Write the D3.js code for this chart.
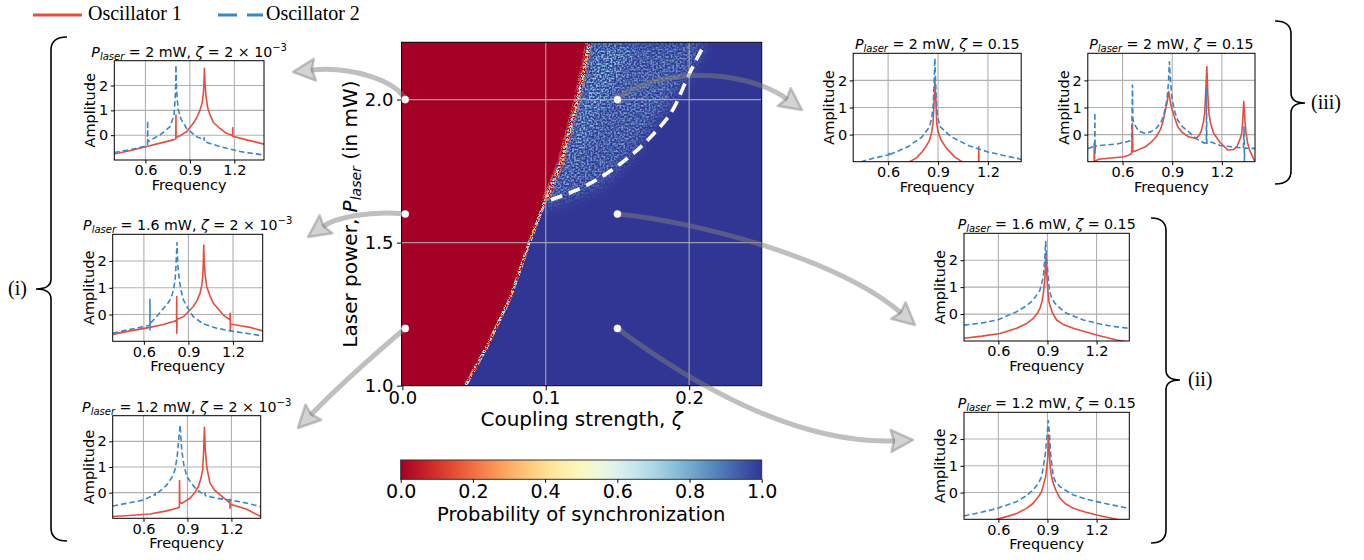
<!DOCTYPE html>
<html><head><meta charset="utf-8">
<script src="https://cdn.jsdelivr.net/npm/d3@7"></script>
<style>
html,body{margin:0;padding:0;background:#fff;}
svg{display:block;}
</style></head><body>
<svg id="fig" width="1364" height="560"></svg>
<script>
// ================= DATA =================
const seriesNames = ["Oscillator 1", "Oscillator 2"];
const freqTicks = [0.6, 0.9, 1.2];
const ampTicks = [0, 1, 2];
const zetaTicks = [0.0, 0.1, 0.2];
const powerTicks = [1.0, 1.5, 2.0];
const probTicks = [0.0, 0.2, 0.4, 0.6, 0.8, 1.0];

// synchronization boundary (left edge of synchronized region)
const syncPower = [1.0, 1.137, 1.31, 1.498, 1.65, 1.778, 2.0, 2.2];
const syncZeta  = [0.044, 0.059, 0.0755, 0.0884, 0.100, 0.1106, 0.1223, 0.1305];
// extent of the speckled (partially synchronized) zone
const specklePower    = [1.62, 1.7, 1.8, 1.9, 2.0, 2.1, 2.2];
const speckleEdgeZeta = [0.097, 0.138, 0.158, 0.173, 0.188, 0.200, 0.212];
const denseEdgeZeta   = [0.097, 0.112, 0.121, 0.131, 0.141, 0.152, 0.163];
// white dashed curve
const dashPower = [1.65, 1.7025, 1.778, 1.872, 1.977, 2.082, 2.187];
const dashZeta  = [0.1036, 0.1293, 0.1527, 0.1737, 0.190, 0.1994, 0.21];
// sampled parameter points
const sampleZeta  = [0.002, 0.002, 0.002, 0.15, 0.15, 0.15];
const samplePower = [2.0, 1.6, 1.2, 2.0, 1.6, 1.2];

// spectra: [frequency, log amplitude]
const osc1_i_20 = [[0.39,-0.76],[0.50,-0.62],[0.608,-0.46],[0.70,-0.32],[0.788,-0.19],[0.805,-0.14],[0.806,0.81],[0.807,-0.10],[0.84,0.0],[0.878,0.14],[0.923,0.48],[0.95,0.75],[0.968,1.01],[0.983,1.3],[0.991,1.68],[0.995,2.1],[0.998,2.69],[1.002,2.1],[1.009,1.55],[1.02,1.1],[1.036,0.81],[1.06,0.5],[1.103,0.27],[1.14,0.1],[1.182,0.0],[1.188,-0.02],[1.189,0.30],[1.190,-0.04],[1.283,-0.19],[1.40,-0.36]];
const osc2_i_20 = [[0.39,-0.70],[0.50,-0.58],[0.586,-0.46],[0.614,-0.41],[0.615,0.58],[0.616,-0.27],[0.65,-0.15],[0.698,0.01],[0.766,0.34],[0.793,0.81],[0.80,1.42],[0.804,2.0],[0.806,2.82],[0.809,2.0],[0.815,1.42],[0.822,1.01],[0.84,0.65],[0.878,0.27],[0.946,-0.06],[0.995,-0.19],[0.996,-0.1],[0.997,-0.26],[1.05,-0.36],[1.103,-0.46],[1.238,-0.66],[1.40,-0.80]];
const osc1_i_16 = [[0.39,-0.74],[0.50,-0.62],[0.641,-0.48],[0.73,-0.37],[0.798,-0.26],[0.820,-0.22],[0.821,0.67],[0.8215,-0.70],[0.823,-0.18],[0.866,-0.08],[0.933,0.30],[0.96,0.55],[0.978,0.79],[0.99,1.1],[0.996,1.42],[1.0,1.9],[1.003,2.60],[1.007,1.9],[1.013,1.45],[1.023,1.04],[1.045,0.7],[1.068,0.42],[1.135,-0.02],[1.18,-0.2],[1.181,0.05],[1.182,-0.6],[1.184,-0.35],[1.25,-0.42],[1.315,-0.48],[1.40,-0.61]];
const osc2_i_16 = [[0.39,-0.70],[0.50,-0.56],[0.619,-0.43],[0.640,-0.40],[0.641,0.57],[0.6415,-0.58],[0.643,-0.33],[0.69,-0.05],[0.731,0.23],[0.765,0.45],[0.787,0.67],[0.80,0.95],[0.81,1.29],[0.816,1.8],[0.823,2.69],[0.829,1.8],[0.839,1.29],[0.85,0.9],[0.866,0.55],[0.90,0.2],[0.933,-0.08],[1.0,-0.35],[1.09,-0.51],[1.18,-0.61],[1.30,-0.71],[1.40,-0.80]];
const osc1_i_12 = [[0.39,-0.93],[0.50,-0.89],[0.645,-0.83],[0.75,-0.72],[0.827,-0.61],[0.845,-0.57],[0.846,0.47],[0.848,-0.38],[0.861,-0.42],[0.918,-0.22],[0.95,0.0],[0.975,0.24],[0.992,0.55],[1.004,0.89],[1.011,1.67],[1.016,2.55],[1.022,1.67],[1.032,1.0],[1.054,0.37],[1.085,0.1],[1.123,-0.09],[1.189,-0.4],[1.190,-0.26],[1.191,-0.61],[1.193,-0.45],[1.25,-0.55],[1.305,-0.65],[1.40,-0.93]];
const osc2_i_12 = [[0.39,-0.52],[0.50,-0.40],[0.599,-0.29],[0.679,-0.07],[0.680,-0.02],[0.681,-0.1],[0.759,0.30],[0.80,0.65],[0.815,0.89],[0.83,1.4],[0.838,1.93],[0.85,2.64],[0.855,2.2],[0.861,1.67],[0.875,1.1],[0.895,0.63],[0.93,0.35],[0.963,0.11],[1.02,-0.09],[1.021,-0.02],[1.022,-0.12],[1.10,-0.22],[1.19,-0.29],[1.30,-0.40],[1.40,-0.55]];
const osc1_iii_a = [[0.72,-1.1],[0.73,-1.0],[0.77,-0.86],[0.805,-0.63],[0.83,-0.42],[0.849,-0.2],[0.862,0.1],[0.87,0.42],[0.877,1.28],[0.881,2.02],[0.887,1.28],[0.892,0.42],[0.90,0.1],[0.918,-0.2],[0.95,-0.5],[1.0,-0.82],[1.043,-1.0],[1.06,-1.1],[1.144,-1.1],[1.145,-0.45],[1.146,-1.1],[1.40,-1.2]];
const osc2_iii_a = [[0.39,-1.15],[0.438,-1.0],[0.52,-0.86],[0.60,-0.75],[0.605,-0.74],[0.606,-0.66],[0.607,-0.74],[0.719,-0.45],[0.805,-0.08],[0.849,0.29],[0.862,0.6],[0.87,1.03],[0.876,1.8],[0.881,2.82],[0.886,1.8],[0.892,1.03],[0.90,0.6],[0.913,0.29],[0.978,-0.08],[1.086,-0.41],[1.195,-0.63],[1.30,-0.78],[1.40,-0.91]];
const osc1_iii_b = [[0.39,-1.1],[0.428,-1.05],[0.429,-0.32],[0.431,-1.0],[0.455,-0.91],[0.607,-0.82],[0.64,-0.75],[0.655,-0.70],[0.660,0.42],[0.662,-0.63],[0.68,-0.6],[0.737,-0.45],[0.77,-0.3],[0.803,-0.08],[0.83,0.2],[0.846,0.54],[0.868,1.15],[0.879,1.59],[0.89,1.15],[0.9,0.91],[0.933,0.29],[0.96,0.08],[0.998,-0.08],[1.042,-0.14],[1.06,-0.05],[1.074,0.11],[1.088,0.45],[1.096,0.78],[1.102,1.52],[1.109,2.51],[1.115,1.52],[1.122,0.78],[1.132,0.4],[1.15,0.05],[1.19,-0.3],[1.237,-0.57],[1.27,-0.55],[1.291,-0.45],[1.31,-0.15],[1.32,0.05],[1.326,0.54],[1.332,1.22],[1.339,0.54],[1.346,0.05],[1.355,-0.3],[1.367,-0.57],[1.40,-1.0]];
const osc2_iii_b = [[0.39,-0.51],[0.423,-0.45],[0.432,-0.43],[0.433,0.81],[0.434,-0.69],[0.436,-0.42],[0.50,-0.38],[0.564,-0.35],[0.629,-0.26],[0.655,-0.2],[0.660,1.83],[0.662,0.6],[0.668,0.42],[0.69,0.2],[0.705,0.11],[0.737,0.05],[0.77,0.1],[0.803,0.23],[0.83,0.43],[0.846,0.66],[0.868,1.28],[0.877,1.9],[0.883,2.69],[0.89,1.9],[0.9,1.28],[0.915,0.85],[0.933,0.54],[0.96,0.3],[0.998,0.11],[1.042,-0.14],[1.096,-0.32],[1.106,-0.3],[1.107,1.71],[1.109,-0.32],[1.128,-0.26],[1.19,-0.4],[1.259,-0.45],[1.33,-0.5],[1.334,0.29],[1.336,-1.0],[1.338,-0.5],[1.40,-0.51]];
const osc1_ii_16 = [[0.39,-0.90],[0.50,-0.82],[0.61,-0.72],[0.712,-0.53],[0.77,-0.36],[0.813,-0.16],[0.84,0.05],[0.854,0.21],[0.868,0.5],[0.875,0.77],[0.885,1.39],[0.891,2.19],[0.895,1.6],[0.899,1.14],[0.905,0.7],[0.911,0.40],[0.93,0.05],[0.956,-0.22],[1.0,-0.4],[1.058,-0.53],[1.13,-0.66],[1.20,-0.78],[1.322,-0.96],[1.363,-1.0],[1.40,-1.05]];
const osc2_ii_16 = [[0.39,-0.41],[0.50,-0.33],[0.594,-0.22],[0.712,0.09],[0.77,0.3],[0.813,0.52],[0.854,0.89],[0.875,1.39],[0.883,2.01],[0.889,2.69],[0.895,2.01],[0.905,1.39],[0.911,0.89],[0.925,0.6],[0.946,0.40],[0.98,0.2],[1.017,0.03],[1.119,-0.22],[1.221,-0.37],[1.30,-0.46],[1.40,-0.53]];
const osc1_ii_12 = [[0.58,-1.05],[0.59,-1.0],[0.65,-0.9],[0.712,-0.78],[0.77,-0.6],[0.813,-0.40],[0.845,-0.15],[0.864,0.03],[0.889,0.59],[0.901,1.22],[0.907,2.15],[0.911,1.6],[0.915,1.09],[0.922,0.7],[0.932,0.41],[0.95,0.1],[0.976,-0.21],[1.01,-0.42],[1.058,-0.59],[1.13,-0.73],[1.20,-0.84],[1.322,-1.0],[1.40,-1.1]];
const osc2_ii_12 = [[0.39,-0.875],[0.50,-0.73],[0.594,-0.59],[0.712,-0.34],[0.77,-0.12],[0.813,0.10],[0.845,0.35],[0.864,0.59],[0.885,1.34],[0.897,2.09],[0.905,2.69],[0.913,2.09],[0.921,1.34],[0.936,0.59],[0.95,0.4],[0.976,0.22],[1.058,-0.09],[1.13,-0.24],[1.20,-0.34],[1.30,-0.47],[1.40,-0.59]];

// panel titles (laser power, coupling)
const titlePower = ["2", "1.6", "1.2", "2", "2", "1.6", "1.2"];
const titleZeta  = [["2 × 10","−3"],["2 × 10","−3"],["2 × 10","−3"],["0.15",""],["0.15",""],["0.15",""],["0.15",""]];
const groupLabels = ["(i)", "(ii)", "(iii)"];

// ================= LAYOUT / STYLE =================
const W = 1364, H = 560;
const RED = "#e74c3c", BLUE = "#3a87c8";
const SANS = "DejaVu Sans, sans-serif", SERIF = "Liberation Serif, DejaVu Serif, serif";
const freqDomain = [0.39, 1.40], ampDomain = [-1, 3.0];

const panels = [
  {L:114.3,R:264,  T:60.7, B:160,   o1:osc1_i_20,  o2:osc2_i_20,  s:0, arrow:{c1:[395,80],  c2:[350,66],  tip:[293,72]}},
  {L:112.7,R:262.7,T:234.3,B:341.3, o1:osc1_i_16,  o2:osc2_i_16,  s:1, arrow:{c1:[370,210], c2:[335,218], tip:[308,237]}},
  {L:112.7,R:260.7,T:415.7,B:518.3, o1:osc1_i_12,  o2:osc2_i_12,  s:2, arrow:{c1:[385,345], c2:[340,385], tip:[298,428]}},
  {L:853.2,R:1021.2,T:53.3,B:161.7, o1:osc1_iii_a, o2:osc2_iii_a, s:3, arrow:{c1:[650,70],  c2:[740,65],  tip:[802,110]}},
  {L:1087.8,R:1255,T:53.3, B:161.7, o1:osc1_iii_b, o2:osc2_iii_b, s:-1},
  {L:964, R:1129.3,T:233.3,B:341,   o1:osc1_ii_16, o2:osc2_ii_16, s:4, arrow:{c1:[700,222], c2:[840,260], tip:[915,325]}},
  {L:964, R:1129.3,T:412.3,B:519.3, o1:osc1_ii_12, o2:osc2_ii_12, s:5, arrow:{c1:[680,375], c2:[790,445], tip:[913,440]}}
];

const svg = d3.select("#fig");
const defs = svg.append("defs");

function noiseFilter(id, box, freq, seed, slope, intercept, palette){
  const f = defs.append("filter").attr("id", id).attr("filterUnits","userSpaceOnUse")
    .attr("x", box.L).attr("y", box.T).attr("width", box.R-box.L).attr("height", box.B-box.T)
    .attr("color-interpolation-filters","sRGB");
  f.append("feTurbulence").attr("type","fractalNoise").attr("baseFrequency",freq).attr("numOctaves",1).attr("seed",seed).attr("result","n");
  f.append("feColorMatrix").attr("in","n").attr("type","matrix")
    .attr("values","1 0 0 0 0  1 0 0 0 0  1 0 0 0 0  0 0 0 0 1").attr("result","g");
  const c1 = f.append("feComponentTransfer").attr("in","g").attr("result","s");
  ["R","G","B"].forEach(c => c1.append("feFunc"+c).attr("type","linear").attr("slope",slope).attr("intercept",intercept));
  const c2 = f.append("feComponentTransfer").attr("in","s");
  const cols = palette.map(c => d3.rgb(c));
  c2.append("feFuncR").attr("type","discrete").attr("tableValues", cols.map(c => (c.r/255).toFixed(3)).join(" "));
  c2.append("feFuncG").attr("type","discrete").attr("tableValues", cols.map(c => (c.g/255).toFixed(3)).join(" "));
  c2.append("feFuncB").attr("type","discrete").attr("tableValues", cols.map(c => (c.b/255).toFixed(3)).join(" "));
}

// ================= HEATMAP =================
const HM = {L:401.5, R:761.7, T:42.3, B:385.7};
const hx = d3.scaleLinear().domain([-0.0006, 0.2506]).range([HM.L, HM.R]);
const hy = d3.scaleLinear().domain([1.0, 2.2]).range([HM.B, HM.T]);
const cmap = d3.interpolateRdYlBu;

defs.append("clipPath").attr("id","hmClip").append("rect")
  .attr("x",HM.L).attr("y",HM.T).attr("width",HM.R-HM.L).attr("height",HM.B-HM.T);
noiseFilter("spk", HM, 0.55, 11, 2.4, -0.7, [cmap(1), cmap(0.97), cmap(0.93), cmap(0.88), cmap(0.82), cmap(0.75), cmap(0.68)]);
noiseFilter("frg", HM, 0.75, 5, 2.4, -0.7, [cmap(0), cmap(0), cmap(0.1), cmap(0.22), cmap(0.35), cmap(0.6), cmap(0.8), cmap(0.95)]);
defs.append("filter").attr("id","blur6").attr("filterUnits","userSpaceOnUse")
  .attr("x",0).attr("y",0).attr("width",W).attr("height",H)
  .append("feGaussianBlur").attr("stdDeviation",7);

const sync = syncPower.map((p,i) => ({P:p, z:syncZeta[i]}));
const syncUpper = sync.filter(d => d.P >= 1.65).reverse();
const outerEdge = specklePower.map((p,i) => ({P:p, z:speckleEdgeZeta[i]}));
const denseEdge = specklePower.map((p,i) => ({P:p, z:denseEdgeZeta[i]}));
const pline = d3.line().x(d => hx(d.z)).y(d => hy(d.P));

const spkMask = defs.append("mask").attr("id","spkMask").attr("maskUnits","userSpaceOnUse")
  .attr("x",0).attr("y",0).attr("width",W).attr("height",H);
const smg = spkMask.append("g").attr("filter","url(#blur6)");
smg.append("path").attr("d", pline(outerEdge.concat(syncUpper)) + "Z").attr("fill","#fff").attr("fill-opacity",0.55);
smg.append("path").attr("d", pline(denseEdge.concat(syncUpper)) + "Z").attr("fill","#fff").attr("fill-opacity",0.6);

const frgMask = defs.append("mask").attr("id","frgMask").attr("maskUnits","userSpaceOnUse")
  .attr("x",0).attr("y",0).attr("width",W).attr("height",H);
frgMask.append("path").attr("d", pline(sync)).attr("fill","none").attr("stroke","#fff").attr("stroke-width",3.2);
frgMask.append("path").attr("d", pline(sync.filter(d => d.P >= 1.6))).attr("fill","none").attr("stroke","#fff").attr("stroke-opacity",0.45).attr("stroke-width",8);

const hm = svg.append("g").attr("clip-path","url(#hmClip)");
hm.append("rect").attr("x",HM.L).attr("y",HM.T).attr("width",HM.R-HM.L).attr("height",HM.B-HM.T).attr("fill",cmap(1));
hm.append("rect").attr("x",HM.L).attr("y",HM.T).attr("width",HM.R-HM.L).attr("height",HM.B-HM.T)
  .attr("filter","url(#spk)").attr("mask","url(#spkMask)");
hm.append("path").datum(sync)
  .attr("d", d3.area().y(d => hy(d.P)).x0(hx(hx.domain()[0])).x1(d => hx(d.z)))
  .attr("fill", cmap(0));
hm.append("rect").attr("x",HM.L).attr("y",HM.T).attr("width",HM.R-HM.L).attr("height",HM.B-HM.T)
  .attr("filter","url(#frg)").attr("mask","url(#frgMask)");
// grid
hm.selectAll(".gx").data(zetaTicks.slice(1)).join("line")
  .attr("x1",d=>hx(d)).attr("x2",d=>hx(d)).attr("y1",HM.T).attr("y2",HM.B)
  .attr("stroke","#b0b0b0").attr("stroke-opacity",0.85).attr("stroke-width",1.2);
hm.selectAll(".gy").data(powerTicks.slice(1)).join("line")
  .attr("y1",d=>hy(d)).attr("y2",d=>hy(d)).attr("x1",HM.L).attr("x2",HM.R)
  .attr("stroke","#b0b0b0").attr("stroke-opacity",0.85).attr("stroke-width",1.2);
// dashed white curve
hm.append("path").datum(dashPower.map((p,i)=>({P:p, z:dashZeta[i]})))
  .attr("d", d3.line().curve(d3.curveMonotoneX).x(d=>hx(d.z)).y(d=>hy(d.P)))
  .attr("fill","none").attr("stroke","#fff").attr("stroke-width",3.6).attr("stroke-dasharray","12,7");
svg.append("rect").attr("x",HM.L).attr("y",HM.T).attr("width",HM.R-HM.L).attr("height",HM.B-HM.T)
  .attr("fill","none").attr("stroke","#000").attr("stroke-width",1);

function styleAxis(g, size){
  g.select(".domain").remove();
  g.selectAll("text").attr("font-family",SANS).attr("font-size",size).attr("fill","#000");
  g.selectAll("line").attr("stroke","#000");
}
svg.append("g").attr("transform",`translate(${HM.L},0)`)
  .call(d3.axisLeft(hy).tickValues(powerTicks).tickFormat(d3.format(".1f")).tickSize(4.5).tickPadding(3.5))
  .call(g => styleAxis(g, 18));
svg.append("g").attr("transform",`translate(0,${HM.B})`)
  .call(d3.axisBottom(hx).tickValues(zetaTicks).tickFormat(d3.format(".1f")).tickSize(4.5).tickPadding(1.5))
  .call(g => styleAxis(g, 18));

const xl = svg.append("text").attr("x",(HM.L+HM.R)/2).attr("y",426).attr("text-anchor","middle")
  .attr("font-family",SANS).attr("font-size",20);
xl.append("tspan").text("Coupling strength, ");
xl.append("tspan").attr("font-style","italic").text("ζ");
const yl = svg.append("text").attr("transform",`translate(357,${(HM.T+HM.B)/2}) rotate(-90)`).attr("text-anchor","middle")
  .attr("font-family",SANS).attr("font-size",20);
yl.append("tspan").text("Laser power, ");
yl.append("tspan").attr("font-style","italic").text("P");
yl.append("tspan").attr("font-style","italic").attr("font-size",14).attr("dy",4).text("laser");
yl.append("tspan").attr("dy",-4).text(" (in mW)");

// ================= COLORBAR =================
const CB = {L:400.7, R:761.7, T:460, B:479.3};
const cbx = d3.scaleLinear().domain([0,1]).range([CB.L, CB.R]);
const grad = defs.append("linearGradient").attr("id","cbGrad").attr("x1","0%").attr("x2","100%");
d3.range(0, 1.0001, 0.05).forEach(t => grad.append("stop").attr("offset", (t*100)+"%").attr("stop-color", cmap(t)));
svg.append("rect").attr("x",CB.L).attr("y",CB.T).attr("width",CB.R-CB.L).attr("height",CB.B-CB.T)
  .attr("fill","url(#cbGrad)").attr("stroke","#333").attr("stroke-width",1);
svg.append("g").attr("transform",`translate(0,${CB.B})`)
  .call(d3.axisBottom(cbx).tickValues(probTicks).tickFormat(d3.format(".1f")).tickSize(3.5).tickPadding(1.5))
  .call(g => styleAxis(g, 19));
svg.append("text").attr("x",(CB.L+CB.R)/2).attr("y",521).attr("text-anchor","middle")
  .attr("font-family",SANS).attr("font-size",19.5).text("Probability of synchronization");

// ================= SPECTRA PANELS =================
panels.forEach((p, i) => {
  const x = d3.scaleLinear().domain(freqDomain).range([p.L, p.R]);
  const y = d3.scaleLinear().domain(ampDomain).range([p.B, p.T]);
  const cid = "pclip" + i;
  defs.append("clipPath").attr("id", cid).append("rect")
    .attr("x",p.L).attr("y",p.T).attr("width",p.R-p.L).attr("height",p.B-p.T);
  const g = svg.append("g");
  g.selectAll(".vg").data(freqTicks).join("line")
    .attr("x1",d=>x(d)).attr("x2",d=>x(d)).attr("y1",p.T).attr("y2",p.B)
    .attr("stroke","#b0b0b0").attr("stroke-width",1.1);
  g.selectAll(".hg").data(ampTicks).join("line")
    .attr("y1",d=>y(d)).attr("y2",d=>y(d)).attr("x1",p.L).attr("x2",p.R)
    .attr("stroke","#b0b0b0").attr("stroke-width",1.1);
  const line = d3.line().x(d=>x(d[0])).y(d=>y(d[1]));
  const lg = g.append("g").attr("clip-path",`url(#${cid})`);
  lg.append("path").datum(p.o1).attr("d",line).attr("fill","none").attr("stroke",RED)
    .attr("stroke-width",1.6).attr("stroke-linejoin","round");
  lg.append("path").datum(p.o2).attr("d",line).attr("fill","none").attr("stroke",BLUE)
    .attr("stroke-width",1.6).attr("stroke-dasharray","5.5,3").attr("stroke-linejoin","round");
  g.append("rect").attr("x",p.L).attr("y",p.T).attr("width",p.R-p.L).attr("height",p.B-p.T)
    .attr("fill","none").attr("stroke","#000").attr("stroke-width",1);
  g.append("g").attr("transform",`translate(0,${p.B})`)
    .call(d3.axisBottom(x).tickValues(freqTicks).tickFormat(d3.format(".1f")).tickSize(3.5).tickPadding(1.5))
    .call(a => styleAxis(a, 14.5));
  g.append("g").attr("transform",`translate(${p.L},0)`)
    .call(d3.axisLeft(y).tickValues(ampTicks).tickFormat(d3.format("d")).tickSize(3.5).tickPadding(2.5))
    .call(a => styleAxis(a, 14.5));
  g.append("text").attr("x",(p.L+p.R)/2).attr("y",p.B+30).attr("text-anchor","middle")
    .attr("font-family",SANS).attr("font-size",14.5).text("Frequency");
  g.append("text").attr("transform",`translate(${p.L-19},${(p.T+p.B)/2}) rotate(-90)`).attr("text-anchor","middle")
    .attr("font-family",SANS).attr("font-size",14.5).text("Amplitude");
  const t = g.append("text").attr("x",(p.L+p.R)/2).attr("y",p.T-4).attr("text-anchor","middle")
    .attr("font-family",SANS).attr("font-size",14.2);
  t.append("tspan").attr("font-style","italic").text("P");
  t.append("tspan").attr("font-style","italic").attr("font-size",10).attr("dy",3).text("laser");
  t.append("tspan").attr("dy",-3).text(" = " + titlePower[i] + " mW, ");
  t.append("tspan").attr("font-style","italic").text("ζ");
  t.append("tspan").text(" = " + titleZeta[i][0]);
  if (titleZeta[i][1]) t.append("tspan").attr("font-size",10).attr("dy",-6).text(titleZeta[i][1]);
});

// ================= ARROWS + SAMPLE DOTS =================
const arrowG = svg.append("g");
panels.filter(p => p.s >= 0).forEach(p => {
  const p0 = [hx(sampleZeta[p.s]), hy(samplePower[p.s])];
  const {c1, c2, tip} = p.arrow;
  const dx = tip[0]-c2[0], dy = tip[1]-c2[1], len = Math.hypot(dx,dy);
  const ux = dx/len, uy = dy/len, nx = -uy, ny = ux;
  const HL = 22, HW = 11;
  const base = [tip[0]-ux*HL, tip[1]-uy*HL];
  const pa = d3.path();
  pa.moveTo(p0[0], p0[1]);
  pa.bezierCurveTo(c1[0], c1[1], c2[0], c2[1], base[0]+ux*4, base[1]+uy*4);
  arrowG.append("path").attr("d", pa.toString()).attr("fill","none")
    .attr("stroke","#808080").attr("stroke-opacity",0.5).attr("stroke-width",5);
  const hp = d3.path();
  hp.moveTo(tip[0], tip[1]);
  hp.lineTo(base[0]+nx*HW, base[1]+ny*HW);
  hp.lineTo(base[0]+ux*3, base[1]+uy*3);
  hp.lineTo(base[0]-nx*HW, base[1]-ny*HW);
  hp.closePath();
  arrowG.append("path").attr("d", hp.toString()).attr("fill","#808080").attr("fill-opacity",0.35)
    .attr("stroke","#808080").attr("stroke-opacity",0.45).attr("stroke-width",2.5).attr("stroke-linejoin","round");
});
svg.append("g").selectAll("circle").data(sampleZeta.map((z,i)=>[z, samplePower[i]])).join("circle")
  .attr("cx", d => hx(d[0])).attr("cy", d => hy(d[1])).attr("r", 3.6)
  .attr("fill","#fff").attr("stroke","#e0e0e0").attr("stroke-width",0.6);

// ================= LEGEND =================
const leg = svg.append("g");
leg.append("line").attr("x1",33).attr("x2",82).attr("y1",15).attr("y2",15).attr("stroke",RED).attr("stroke-width",3);
leg.append("text").attr("x",88).attr("y",20).attr("font-family",SERIF).attr("font-size",20).text(seriesNames[0]);
leg.append("line").attr("x1",218).attr("x2",263).attr("y1",15).attr("y2",15).attr("stroke",BLUE).attr("stroke-width",3).attr("stroke-dasharray","19,10");
leg.append("text").attr("x",266).attr("y",20).attr("font-family",SERIF).attr("font-size",20).text(seriesNames[1]);

// ================= BRACES =================
function brace(xh, xv, xt, top, bot, mid){
  const p = d3.path();
  p.moveTo(xh, top);
  p.quadraticCurveTo(xv, top, xv, top+13);
  p.lineTo(xv, mid-10);
  p.quadraticCurveTo(xv, mid, xt, mid);
  p.quadraticCurveTo(xv, mid, xv, mid+10);
  p.lineTo(xv, bot-13);
  p.quadraticCurveTo(xv, bot, xh, bot);
  svg.append("path").attr("d", p.toString()).attr("fill","none").attr("stroke","#000").attr("stroke-width",1.6);
}
brace(67, 51, 36, 37, 541, 289);
brace(1151, 1166, 1180, 218, 543, 380);
brace(1275, 1291, 1305, 21, 184, 103);
svg.append("text").attr("x",8).attr("y",295).attr("font-family",SERIF).attr("font-size",20).text(groupLabels[0]);
svg.append("text").attr("x",1188).attr("y",386).attr("font-family",SERIF).attr("font-size",20).text(groupLabels[1]);
svg.append("text").attr("x",1311).attr("y",109).attr("font-family",SERIF).attr("font-size",20).text(groupLabels[2]);
</script>
</body></html>
